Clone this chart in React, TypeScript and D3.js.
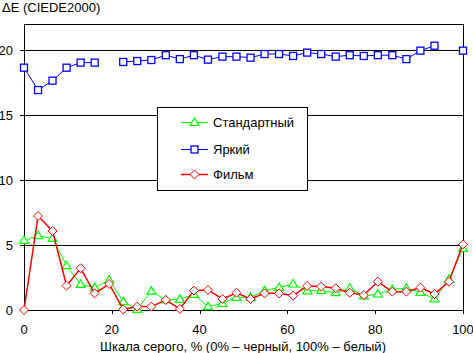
import React from "react";
import * as d3 from "d3";

const levels = [0, 3.2, 6.5, 9.7, 12.9, 16.1, 19.4, 22.6, 25.8, 29.0, 32.3, 35.5, 38.7, 41.9, 45.2, 48.4, 51.6, 54.8, 58.1, 61.3, 64.5, 67.7, 71.0, 74.2, 77.4, 80.6, 83.9, 87.1, 90.3, 93.5, 96.8, 100];
const standard = [5.35, 5.72, 5.51, 3.41, 1.97, 1.72, 2.31, 0.64, 0.05, 1.45, 0.77, 0.82, 1.2, 0.26, 0.51, 0.97, 0.97, 1.49, 1.74, 2.0, 1.47, 1.49, 1.33, 1.67, 1.08, 1.23, 1.59, 1.67, 1.36, 0.85, 2.36, 4.74];
const bright: (number | null)[] = [18.64, 16.92, 17.64, 18.64, 19.03, 19.03, null, 19.08, 19.15, 19.23, 19.6, 19.3, 19.6, 19.26, 19.49, 19.49, 19.41, 19.69, 19.69, 19.54, 19.8, 19.69, 19.49, 19.6, 19.54, 19.6, 19.6, 19.3, 19.95, 20.33, null, 19.95];
const film = [0, 7.23, 6.08, 1.87, 3.21, 1.28, 2.0, 0.05, 0.26, 0.26, 0.77, 0.08, 1.49, 1.54, 0.85, 1.33, 0.85, 1.28, 1.28, 1.1, 1.85, 1.8, 1.67, 1.33, 1.15, 2.18, 1.41, 1.41, 1.72, 1.23, 2.18, 5.05];
const seriesNames = ["Стандартный", "Яркий", "Фильм"];
const xTicks = [0, 20, 40, 60, 80, 100];
const yTicks = [0, 5, 10, 15, 20];
const yTitle = "ΔE (CIEDE2000)";
const xTitle = "Шкала серого, % (0% – черный, 100% – белый)";

const W = 473, H = 353;
const L = 24, R = 463, T = 24, B = 310;
const FONT = "'Liberation Sans', Arial, sans-serif";

type Kind = "tri" | "sq" | "dia";

function Marker({ kind, x, y, color }: { kind: Kind; x: number; y: number; color: string }) {
  if (kind === "sq") return <rect x={x - 3.5} y={y - 3.5} width={7} height={7} fill="white" stroke={color} strokeWidth={1.3} />;
  if (kind === "tri") return <path d={`M${x},${y - 4.5}L${x + 4.5},${y + 3}L${x - 4.5},${y + 3}Z`} fill="white" stroke={color} strokeWidth={1.2} />;
  return <path d={`M${x},${y - 4.5}L${x + 4.5},${y}L${x},${y + 4.5}L${x - 4.5},${y}Z`} fill="white" stroke={color} strokeWidth={1} />;
}

export default function App() {
  const x = d3.scaleLinear().domain([0, 100]).range([L, R]);
  const y = d3.scaleLinear().domain([0, 22]).range([B, T]);
  const series: { name: string; vals: (number | null)[]; color: string; kind: Kind; w: number }[] = [
    { name: seriesNames[0], vals: standard, color: "#00ff00", kind: "tri", w: 1 },
    { name: seriesNames[1], vals: bright, color: "#0000ff", kind: "sq", w: 1 },
    { name: seriesNames[2], vals: film, color: "#ff0000", kind: "dia", w: 1.5 },
  ];
  const line = d3
    .line<number | null>()
    .defined((d) => d !== null)
    .x((_, i) => x(levels[i]))
    .y((d) => y(d as number));

  const legX = 157, legY = 107, legW = 150, legH = 83;
  const rowY = [122, 149, 174];

  return (
    <svg width={W} height={H} style={{ position: "absolute", left: 0, top: 0, background: "white" }} fontFamily={FONT}>
      <rect width={W} height={H} fill="white" />
      {yTicks.map((t) => (
        <g key={t}>
          <line x1={L - 4} x2={R} y1={Math.round(y(t)) + 0.5} y2={Math.round(y(t)) + 0.5} stroke="black" />
          <text x={13} y={y(t) + 4.7} textAnchor="end" fontSize={13}>{t}</text>
        </g>
      ))}
      {xTicks.map((t) => (
        <g key={t}>
          <line x1={Math.round(x(t)) + 0.5} x2={Math.round(x(t)) + 0.5} y1={B} y2={B + 4} stroke="black" />
          <text x={x(t)} y={333.5} textAnchor="middle" fontSize={13}>{t}</text>
        </g>
      ))}
      <rect x={L + 0.5} y={T + 0.5} width={R - L} height={B - T} fill="none" stroke="black" />
      <text x={2} y={12} fontSize={13}>{yTitle}</text>
      <text x={243} y={351} textAnchor="middle" fontSize={13}>{xTitle}</text>
      <g>
        <rect x={legX + 0.5} y={legY + 0.5} width={legW} height={legH} fill="white" stroke="black" />
        {series.map((s, i) => (
          <g key={s.name}>
            <line x1={181} x2={208} y1={rowY[i] + 0.5} y2={rowY[i] + 0.5} stroke={s.color} strokeWidth={s.w} />
            <Marker kind={s.kind} x={194.5} y={rowY[i] + 0.5} color={s.color} />
            <text x={213} y={rowY[i] + 5} fontSize={13}>{s.name}</text>
          </g>
        ))}
      </g>
      {series.map((s) => (
        <g key={s.name}>
          <path d={line(s.vals) || ""} fill="none" stroke={s.color} strokeWidth={s.w} />
          {s.vals.map((v, i) => (v === null ? null : <Marker key={i} kind={s.kind} x={x(levels[i])} y={y(v)} color={s.color} />))}
        </g>
      ))}
    </svg>
  );
}
